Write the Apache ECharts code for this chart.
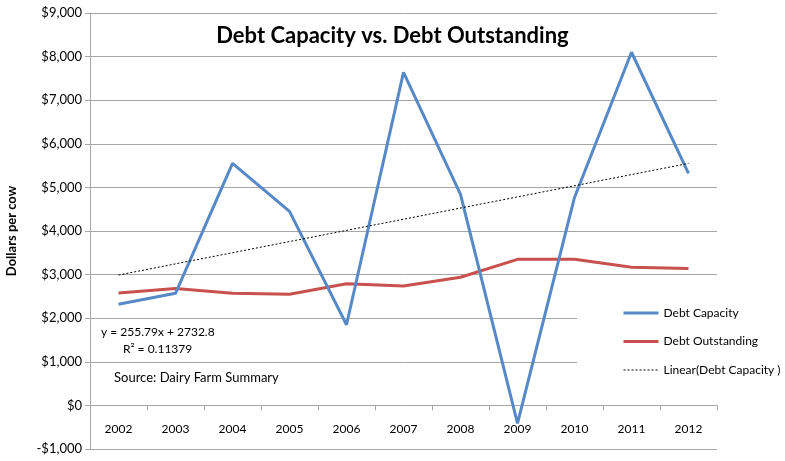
<!DOCTYPE html>
<html>
<head>
<meta charset="utf-8">
<script src="https://cdn.jsdelivr.net/npm/echarts@6/dist/echarts.min.js"></script>
<style>
  html, body { margin: 0; padding: 0; background: #fff; }
  #chart { width: 785px; height: 461px; }
</style>
</head>
<body>
<div id="chart"></div>
<script>
  // data
  var years = ['2002', '2003', '2004', '2005', '2006', '2007', '2008', '2009', '2010', '2011', '2012'];
  var debtCapacity = [2320, 2570, 5550, 4450, 1850, 7640, 4840, -410, 4770, 8100, 5320];
  var debtOutstanding = [2580, 2680, 2570, 2550, 2790, 2740, 2940, 3350, 3350, 3170, 3140];
  // trend line end points (2002 and 2012)
  var trendYears = ['2002', '2012'];
  var trendValues = [2990, 5550];
  var equationLines = ['y = 255.79x + 2732.8', 'R\u00b2 = 0.11379'];
  var sourceText = 'Source: Dairy Farm Summary';

  var font = 'Lato, "Open Sans", sans-serif';
  var blue = '#5689c6';
  var red = '#c8514e';
  var chart = echarts.init(document.getElementById('chart'));

  function money(v) {
    var s = '$' + Math.abs(v).toLocaleString('en-US');
    return v < 0 ? '-' + s : s;
  }

  chart.setOption({
    animation: false,
    title: {
      text: 'Debt Capacity vs. Debt Outstanding',
      left: 'center',
      top: 20,
      textStyle: { fontFamily: font, fontSize: 22, fontWeight: 'bold', color: '#000' }
    },
    grid: { left: 90, right: 68, top: 13, bottom: 12, containLabel: false, outerBoundsMode: 'none' },
    legend: {
      orient: 'vertical',
      left: 577,
      top: 295,
      padding: [11, 20, 12, 45],
      backgroundColor: '#fff',
      itemWidth: 35,
      itemHeight: 14,
      itemGap: 14.5,
      itemStyle: { opacity: 0 }, // hide the circle, keep only the line
      textStyle: { fontFamily: font, fontSize: 12, color: '#000', lineHeight: 14 },
      data: [
        { name: 'Debt Capacity', lineStyle: { width: 3 } },
        { name: 'Debt Outstanding', lineStyle: { width: 3 } },
        { name: 'Linear(Debt Capacity )', lineStyle: { width: 1 } }
      ]
    },
    xAxis: {
      type: 'category',
      data: years,
      boundaryGap: true,
      axisLine: { onZero: true, lineStyle: { color: '#a6a6a6', width: 1 } },
      axisTick: { show: true, length: 5, lineStyle: { color: '#a6a6a6' } },
      axisLabel: { fontFamily: font, fontSize: 12, color: '#000', margin: -26 }
    },
    yAxis: {
      type: 'value',
      min: -1000,
      max: 9000,
      interval: 1000,
      name: 'Dollars per cow',
      nameLocation: 'middle',
      nameRotate: 90,
      nameGap: 72,
      nameTextStyle: { fontFamily: font, fontSize: 13, fontWeight: 'bold', color: '#000' },
      axisLine: { show: true, lineStyle: { color: '#a6a6a6' } },
      axisTick: { show: true, length: 5, lineStyle: { color: '#a6a6a6' } },
      axisLabel: { fontFamily: font, fontSize: 13, color: '#000', margin: 8, formatter: money },
      splitLine: { lineStyle: { color: '#a6a6a6', width: 1 } }
    },
    series: [
      {
        name: 'Debt Capacity',
        type: 'line',
        data: debtCapacity,
        symbol: 'none',
        lineStyle: { color: blue, width: 3 },
        itemStyle: { color: blue },
        z: 3
      },
      {
        name: 'Debt Outstanding',
        type: 'line',
        data: debtOutstanding,
        symbol: 'none',
        lineStyle: { color: red, width: 3 },
        itemStyle: { color: red },
        z: 2
      },
      {
        name: 'Linear(Debt Capacity )',
        type: 'line',
        data: trendYears.map(function (y, i) { return [y, trendValues[i]]; }),
        symbol: 'none',
        lineStyle: { color: '#000', width: 1, type: [2, 2] },
        itemStyle: { color: '#000' },
        z: 4
      }
    ],
    graphic: [
      {
        type: 'text', left: 101, top: 326, z: 10,
        style: { text: equationLines[0], font: '12px ' + font, fill: '#000' }
      },
      {
        type: 'text', left: 123, top: 343, z: 10,
        style: { text: equationLines[1], font: '12px ' + font, fill: '#000' }
      },
      {
        type: 'text', left: 114, top: 371, z: 10,
        style: { text: sourceText, font: '13px ' + font, fill: '#000' }
      }
    ]
  });
</script>
</body>
</html>
